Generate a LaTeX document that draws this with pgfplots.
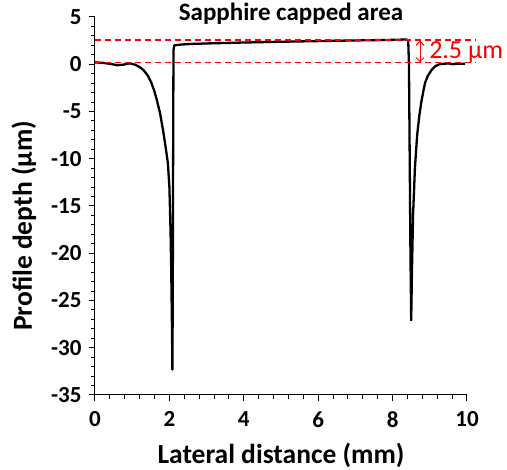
\documentclass[border=0pt]{standalone}
\usepackage{pgfplots}
\pgfplotsset{compat=1.18}
\usetikzlibrary{arrows.meta}
\usepackage{fontspec}
\setmainfont{Carlito}
\definecolor{annred}{RGB}{255,0,0}
\begin{document}
\begin{tikzpicture}
\begin{axis}[
  scale only axis, width=372pt, height=378pt,
  xmin=0, xmax=10, ymin=-35, ymax=5,
  axis x line*=bottom, axis y line*=left,
  xtick={0,2,...,10}, ytick={-35,-30,...,5},
  minor x tick num=4, minor y tick num=4,
  tick align=outside, major tick length=6pt, minor tick length=4pt,
  every tick/.style={black, line width=1pt},
  axis line style={black, line width=1pt},
  ticklabel style={font=\fontsize{23}{23}\selectfont\bfseries},
  xticklabel style={yshift=-7pt},
  yticklabel style={xshift=-4pt},
  /pgf/number format/assume math mode=true,
  clip=false,
]
\addplot[black, line width=2.3pt, line join=round] coordinates {
(0,0.2) (0.2,0.15) (0.4,0.05) (0.6,-0.1) (0.75,-0.05) (0.94,0.1) (1.08,-0.05)
(1.2,-0.3) (1.3,-0.6) (1.42,-1.2) (1.52,-2.0) (1.6,-2.9) (1.66,-3.75) (1.75,-5.2)
(1.83,-7.0) (1.9,-8.8) (1.96,-10.5) (2.0,-13) (2.03,-17.5) (2.05,-22) (2.07,-28)
(2.08,-32.3) (2.09,-25) (2.10,-10) (2.11,1.5) (2.13,2.0) (2.3,2.08) (2.6,2.15)
(3.0,2.2) (4.0,2.3) (5.0,2.38) (6.0,2.45) (7.0,2.52) (8.0,2.58) (8.37,2.62)
(8.42,2.5) (8.44,0) (8.46,-10) (8.48,-20) (8.50,-27.1) (8.52,-22) (8.55,-16)
(8.60,-11) (8.66,-7.5) (8.72,-5.4) (8.78,-3.8) (8.87,-2.0) (8.95,-1.2) (9.05,-0.6)
(9.15,-0.2) (9.27,0.02) (9.4,0.05) (9.5,0.1) (9.6,0.0) (9.7,0.05) (9.95,0.05)
};
\addplot[annred, line width=1.3pt, dash pattern=on 6pt off 4pt] coordinates {(0,2.55) (10.25,2.55)};
\addplot[annred, line width=1.3pt, dash pattern=on 6pt off 4pt] coordinates {(0,0.15) (10.25,0.15)};
\addplot[annred, line width=0.9pt, {Straight Barb[length=4pt,width=8pt]}-{Straight Barb[length=4pt,width=8pt]}] coordinates {(8.74,2.5) (8.74,0.2)};
\node[annred, anchor=west, font=\fontsize{26}{26}\selectfont, inner sep=0pt] at (axis cs:8.98,1.33) {2.5 µm};
\node[font=\fontsize{25}{25}\selectfont\bfseries] at (axis cs:5.27,5.35) {Sapphire capped area};
\node[font=\fontsize{27.5}{27.5}\selectfont\bfseries] at (axis cs:5,-41.4) {Lateral distance (mm)};
\node[font=\fontsize{27.5}{27.5}\selectfont\bfseries, rotate=90] at (axis cs:-1.91,-17.1) {Profile depth (µm)};
\coordinate (O) at (axis cs:0,-35);
\end{axis}
\pgfresetboundingbox
\path (O) ++(-95pt,-75pt) rectangle ++(507pt,470pt);
\end{tikzpicture}
\end{document}
